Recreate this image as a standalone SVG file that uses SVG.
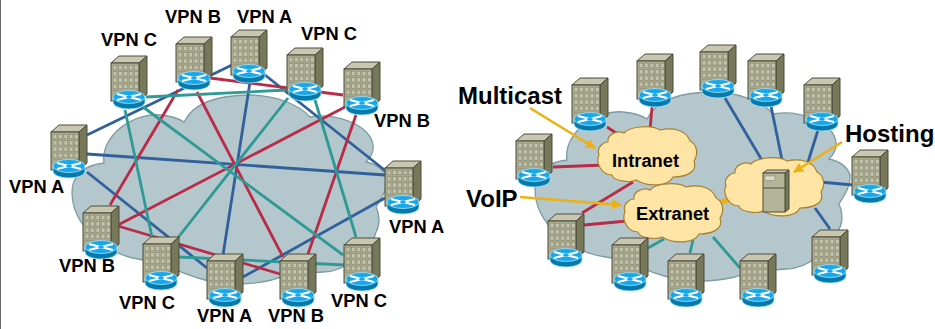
<svg xmlns="http://www.w3.org/2000/svg" xmlns:xlink="http://www.w3.org/1999/xlink" width="935" height="329" viewBox="0 0 935 329">
<style>
text{font-family:"Liberation Sans",Arial,sans-serif;font-weight:700;fill:#000}
.v{font-size:18.3px}.b{font-size:24px}
.net{fill:#b4c7cc;stroke:#7d9ca2;stroke-width:1.3}
.ln{fill:none;stroke-width:2.8}
.r{stroke:#b92b46}.u{stroke:#31619d}.t{stroke:#2f9a95}
.ar{fill:none;stroke:#eeb012;stroke-width:2.6;marker-end:url(#ah)}
.ylw{fill:#fee5a5;stroke:#a8812c;stroke-width:1.2}
</style>
<defs>
<marker id="ah" markerUnits="userSpaceOnUse" markerWidth="11" markerHeight="10" refX="9" refY="5" orient="auto"><path d="M0 0L10 5L0 10Z" fill="#eeb012"/></marker>
<pattern id="win" width="5.35" height="6.3" patternUnits="userSpaceOnUse" x="1.8" y="1.8"><rect width="5.35" height="6.3" fill="#a9a98e"/><rect x=".4" y=".6" width="3.8" height="4.2" fill="#c4c4ae" stroke="#8b8b71" stroke-width=".6"/></pattern>
<g id="site">
<path d="M0 0L8 -7H36L28 0Z" fill="#c9c7b1" stroke="#4c4c3a"/>
<path d="M28 0L36 -7V31L28 38Z" fill="#77775a" stroke="#4c4c3a"/>
<rect width="28" height="38" fill="#a9a98e" stroke="#4c4c3a"/>
<rect x="2" y="2" width="25" height="26" fill="url(#win)"/>
<path d="M2 34V39C2 43 9 46 18 46S34 43 34 39V34Z" fill="#0679ad" stroke="#a6e6fa" stroke-width=".8"/>
<ellipse cx="18" cy="34" rx="16" ry="6.500" fill="#19a7ec" stroke="#a6e6fa" stroke-width=".8"/>
<path d="M6 31L30 37M6 37L30 31" stroke="#fff" stroke-width="2.300" fill="none"/>
<ellipse cx="18" cy="34" rx="3" ry="1.300" fill="#19a7ec"/>
</g>
<path id="yc" d="M1 28C-2 20 6 15 10 15C9 7 20 3 26 6C31 0 52 -3 62 3C75 0 88 3 92 14C100 18 100 28 96 34C100 45 88 50 75 50C70 60 50 60 38 53C32 56 15 54 14 48C4 48 -3 36 1 28Z"/>
<path id="gc" d="M104 163C100 135 135 112 160 115C170 116 178 118 184 122C195 100 225 95 250 95C275 95 300 105 310 117C335 112 370 125 373 145C374 152 370 158 366 162C380 165 385 172 387 178C388 190 380 200 376 207C380 215 380 225 376 232C372 250 345 272 323 272C305 273 285 275 272 280C250 285 225 285 205 280C175 272 165 262 143 260C105 255 72 225 72 192C72 175 85 165 104 163Z"/>
</defs>
<rect width="935" height="329" fill="#fff"/>
<rect width="1" height="329" fill="#666"/>
<use xlink:href="#gc" href="#gc" class="net"/>
<use xlink:href="#gc" href="#gc" class="net" x="463" y="-3"/>
<g id="connectors">
<path class="ln u" d="M87 135L232 65M87 154L385 175M87 172L207 268M250 82L223 255M265 75L387 172M385 198L243 277"/>
<path class="ln r" d="M178 90L110 205M197 92L283 257M210 78L343 95M118 225L345 107M118 226L280 274M356 115L308 254"/>
<path class="ln t" d="M146 97L288 90M125 110L152 237M143 107L343 255M288 98L173 244M315 100L356 237M179 257L345 265"/>
<path class="ln r" d="M607 127L622 137M652 107L650 130M553 167L605 165M582 213L633 182M584 225L627 221"/>
<path class="ln t" d="M648 248L664 239M690 253L693 240M713 237L740 268"/>
<path class="ln u" d="M725 98L763 162M771 106L782 160M818 130L808 162M820 182L853 185M815 208L830 229"/>
<path fill="none" stroke="#eeb012" stroke-width="5" d="M717 203L732 199"/>
</g>
<g id="intranet-cloud"><use xlink:href="#yc" href="#yc" class="ylw" x="598" y="127"/><text class="v" x="612" y="167">Intranet</text></g>
<g id="extranet-cloud"><use xlink:href="#yc" href="#yc" class="ylw" x="624" y="184"/><text class="v" x="636" y="220">Extranet</text></g>
<g id="hosting-cloud"><use xlink:href="#yc" href="#yc" class="ylw" x="725" y="158"/>
<path d="M763 173L767 170H789L785 173Z" fill="#c9c7b1" stroke="#4c4c3a"/>
<path d="M785 173L789 170V209L785 212Z" fill="#77775a" stroke="#4c4c3a"/>
<rect x="763" y="173" width="22" height="39" fill="#b4b498" stroke="#4c4c3a"/>
<path d="M763 188H785" stroke="#4c4c3a"/><rect x="765" y="176" width="10" height="4.500" fill="#dcdccb" stroke="#8a8a70" stroke-width=".6"/>
</g>
<g id="site-a1"><use xlink:href="#site" href="#site" x="111" y="63"/></g>
<g id="site-a2"><use xlink:href="#site" href="#site" x="176" y="44"/></g>
<g id="site-a3"><use xlink:href="#site" href="#site" x="231" y="37"/></g>
<g id="site-a4"><use xlink:href="#site" href="#site" x="287" y="55"/></g>
<g id="site-a5"><use xlink:href="#site" href="#site" x="344" y="69"/></g>
<g id="site-a6"><use xlink:href="#site" href="#site" x="385" y="168"/></g>
<g id="site-a7"><use xlink:href="#site" href="#site" x="344" y="245"/></g>
<g id="site-a8"><use xlink:href="#site" href="#site" x="280" y="261"/></g>
<g id="site-a9"><use xlink:href="#site" href="#site" x="207" y="261"/></g>
<g id="site-a10"><use xlink:href="#site" href="#site" x="143" y="244"/></g>
<g id="site-a11"><use xlink:href="#site" href="#site" x="83" y="213"/></g>
<g id="site-a12"><use xlink:href="#site" href="#site" x="51" y="132"/></g>
<g id="site-b1"><use xlink:href="#site" href="#site" x="572" y="85"/></g>
<g id="site-b2"><use xlink:href="#site" href="#site" x="637" y="61"/></g>
<g id="site-b3"><use xlink:href="#site" href="#site" x="516" y="141"/></g>
<g id="site-b4"><use xlink:href="#site" href="#site" x="700" y="52"/></g>
<g id="site-b5"><use xlink:href="#site" href="#site" x="748" y="61"/></g>
<g id="site-b6"><use xlink:href="#site" href="#site" x="804" y="85"/></g>
<g id="site-b7"><use xlink:href="#site" href="#site" x="852" y="157"/></g>
<g id="site-b8"><use xlink:href="#site" href="#site" x="548" y="221"/></g>
<g id="site-b9"><use xlink:href="#site" href="#site" x="612" y="245"/></g>
<g id="site-b10"><use xlink:href="#site" href="#site" x="668" y="261"/></g>
<g id="site-b11"><use xlink:href="#site" href="#site" x="740" y="261"/></g>
<g id="site-b12"><use xlink:href="#site" href="#site" x="812" y="237"/></g>
<g id="labels">
<text class="v" x="101" y="46">VPN C</text>
<text class="v" x="165" y="23">VPN B</text>
<text class="v" x="237" y="23">VPN A</text>
<text class="v" x="301" y="40">VPN C</text>
<text class="v" x="374" y="127">VPN B</text>
<text class="v" x="389" y="233">VPN A</text>
<text class="v" x="331" y="307">VPN C</text>
<text class="v" x="268" y="322">VPN B</text>
<text class="v" x="197" y="322">VPN A</text>
<text class="v" x="119" y="309">VPN C</text>
<text class="v" x="59" y="272">VPN B</text>
<text class="v" x="9" y="193">VPN A</text>
<text class="b" x="458" y="104">Multicast</text>
<text class="b" x="845" y="142">Hosting</text>
<text class="b" x="466" y="207">VoIP</text>
</g>
<g id="arrows">
<path class="ar" d="M530 108L595 148"/>
<path class="ar" d="M842 142L794 172"/>
<path class="ar" d="M520 197L621 205"/>
</g>
</svg>
